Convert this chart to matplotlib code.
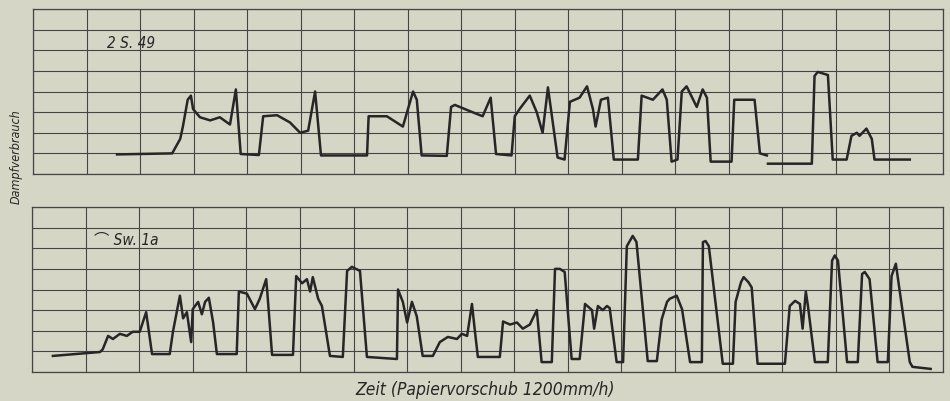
import numpy as np
import matplotlib
matplotlib.use("Agg")
import matplotlib.pyplot as plt

# x in grid columns (17 per strip), y in grid rows (8 per strip)
top_x = [1.57, 2.60, 2.75, 2.80, 2.89, 2.95, 2.99, 3.12, 3.31, 3.49, 3.68, 3.79, 3.88,
         4.22, 4.30, 4.56, 4.80, 4.99, 5.14, 5.27, 5.38,
         6.24, 6.27, 6.61, 6.91, 7.10, 7.17, 7.26,
         7.73, 7.81, 7.88, 8.16, 8.40, 8.55, 8.65,
         8.94, 9.00, 9.09, 9.28, 9.41, 9.52, 9.62, 9.80, 9.93,
         10.03, 10.21, 10.35, 10.46, 10.51, 10.61, 10.74, 10.85,
         11.30, 11.37, 11.58, 11.76, 11.84, 11.93, 12.04,
         12.12, 12.21, 12.40, 12.51, 12.59, 12.66,
         13.05, 13.10, 13.48, 13.58, 13.71, np.nan,
         13.73, 14.45, 14.55, 14.60, 14.66, 14.85, 14.94,
         15.20, 15.29, 15.39, 15.44, 15.57, 15.67, 15.72, 16.38]
top_y = [0.95, 1.00, 1.70, 2.30, 3.60, 3.80, 3.15, 2.75, 2.60, 2.75, 2.40, 4.10, 0.97,
         0.92, 2.80, 2.85, 2.50, 2.00, 2.10, 4.00, 0.90,
         0.90, 2.80, 2.80, 2.30, 4.00, 3.60, 0.90,
         0.88, 3.25, 3.35, 3.05, 2.80, 3.70, 0.97,
         0.90, 2.80, 3.15, 3.80, 3.00, 2.00, 4.20, 0.80, 0.70,
         3.50, 3.70, 4.25, 3.15, 2.30, 3.60, 3.70, 0.70,
         0.70, 3.80, 3.60, 4.10, 3.60, 0.60, 0.70,
         4.00, 4.25, 3.25, 4.10, 3.70, 0.60,
         0.60, 3.60, 3.60, 1.00, 0.90, np.nan,
         0.50, 0.50, 0.50, 4.75, 4.95, 4.80, 0.70,
         0.70, 1.85, 2.00, 1.85, 2.20, 1.70, 0.70, 0.70]

bot_x = [0.39, 1.27, 1.32, 1.42, 1.51, 1.64, 1.77, 1.88, 2.01, 2.13, 2.24,
         2.57, 2.63, 2.76, 2.82, 2.89, 2.97, 3.00, 3.10, 3.17, 3.23, 3.30, 3.38, 3.45,
         3.82, 3.86, 4.01, 4.16, 4.25, 4.37, 4.39, 4.48,
         4.87, 4.93, 5.04, 5.13, 5.19, 5.24, 5.34, 5.41, 5.56,
         5.80, 5.88, 5.97, 6.12, 6.25,
         6.81, 6.83, 6.92, 7.00, 7.09, 7.18, 7.29,
         7.48, 7.61, 7.76, 7.93, 8.02, 8.12, 8.21, 8.26, 8.32,
         8.73, 8.79, 8.92, 9.05, 9.16, 9.29, 9.42, 9.51,
         9.70, 9.76, 9.85, 9.94, 10.07,
         10.22, 10.32, 10.45, 10.49, 10.56, 10.65, 10.73, 10.78, 10.91,
         11.03, 11.10, 11.21, 11.28, 11.49,
         11.66, 11.75, 11.85, 11.90, 12.03, 12.13, 12.28,
         12.50, 12.52, 12.57, 12.63, 12.89,
         13.08, 13.13, 13.23, 13.28, 13.37, 13.43, 13.54,
         14.05, 14.14, 14.24, 14.33, 14.38, 14.44, 14.48, 14.61,
         14.85, 14.93, 14.98, 15.04, 15.21,
         15.41, 15.49, 15.54, 15.63, 15.78,
         15.97, 16.04, 16.12, 16.38, 16.43, 16.77]
bot_y = [0.78, 0.97, 1.10, 1.75, 1.60, 1.85, 1.75, 1.95, 1.95, 2.90, 0.87,
         0.87, 1.95, 3.70, 2.60, 2.90, 1.45, 3.05, 3.40, 2.80, 3.40, 3.60, 2.40, 0.87,
         0.87, 3.90, 3.80, 3.05, 3.55, 4.50, 3.90, 0.83,
         0.83, 4.65, 4.30, 4.50, 3.90, 4.60, 3.55, 3.20, 0.78,
         0.73, 4.90, 5.10, 4.90, 0.73,
         0.63, 4.00, 3.40, 2.40, 3.40, 2.70, 0.78,
         0.78, 1.45, 1.70, 1.60, 1.85, 1.75, 3.30, 2.10, 0.73,
         0.73, 2.45, 2.30, 2.40, 2.10, 2.30, 3.00, 0.48,
         0.48, 5.00, 5.00, 4.85, 0.63,
         0.63, 3.30, 3.00, 2.10, 3.20, 3.00, 3.20, 3.10, 0.48,
         0.48, 6.10, 6.60, 6.30, 0.53,
         0.53, 2.55, 3.40, 3.55, 3.70, 3.05, 0.48,
         0.48, 6.30, 6.35, 6.10, 0.40,
         0.40, 3.40, 4.35, 4.60, 4.35, 4.10, 0.40,
         0.40, 3.20, 3.45, 3.30, 2.10, 3.90, 3.20, 0.48,
         0.48, 5.40, 5.65, 5.40, 0.48,
         0.48, 4.75, 4.85, 4.50, 0.48,
         0.48, 4.65, 5.25, 0.48, 0.25, 0.15]

top_label = "2 S. 49"
bot_label = "⌒ Sw. 1a"
y_title = "Dampfverbrauch"
x_title = "Zeit (Papiervorschub 1200mm/h)"

paper = "#d5d6c6"
ink = "#262626"
grid_ink = "#454545"
fam = ["DejaVu Sans", "Noto Sans CJK JP"]

fig = plt.figure(figsize=(9.5, 4.02), dpi=100, facecolor=paper)
ax_top = fig.add_axes([33 / 950, 1 - 175 / 402, 910 / 950, 165 / 402])
ax_bot = fig.add_axes([32 / 950, 1 - 373 / 402, 911 / 950, 165 / 402])

for ax, xs, ys, label, lx in (
    (ax_top, top_x, top_y, top_label, 1.38),
    (ax_bot, bot_x, bot_y, bot_label, 1.15),
):
    ax.set_facecolor(paper)
    ax.plot(xs, ys, color=ink, linewidth=1.8, solid_joinstyle="round")
    ax.set_xlim(0, 17)
    ax.set_ylim(0, 8)
    ax.set_xticks(np.arange(0, 18))
    ax.set_yticks(np.arange(0, 9))
    ax.grid(True, color=grid_ink, linewidth=0.8)
    ax.set_axisbelow(True)
    ax.tick_params(length=0, labelbottom=False, labelleft=False)
    for sp in ax.spines.values():
        sp.set_color(grid_ink)
        sp.set_linewidth(0.9)
    ax.text(lx, 6.4, label, fontsize=11, style="italic", color=ink,
            va="center", ha="left", family=fam, fontstretch="condensed")

fig.text(16 / 950, 1 - 157 / 402, y_title, rotation=90, fontsize=9,
         style="italic", color=ink, ha="center", va="center", family=fam,
         fontstretch="condensed")
fig.text(485 / 950, 1 - 390 / 402, x_title, fontsize=12.5,
         style="italic", color=ink, ha="center", va="center", family=fam,
         fontstretch="condensed")

fig.savefig("out.png", dpi=100, facecolor=paper)
